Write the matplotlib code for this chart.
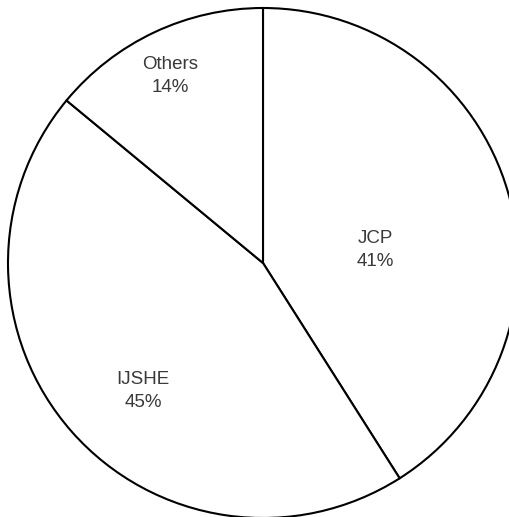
import matplotlib
matplotlib.use('Agg')
import matplotlib.pyplot as plt

# share of papers by journal
journals = ['JCP', 'IJSHE', 'Others']
shares = [41, 45, 14]

# label centres in pixels relative to pie centre (y up)
label_xy = [(112, 13), (-120, -128), (-93, 187)]

plt.rcParams['font.family'] = ['Liberation Sans', 'DejaVu Sans']

fig = plt.figure(figsize=(5.09, 5.17), dpi=100)
ax = fig.add_axes([0, 0, 1, 1])

ax.pie(shares, radius=255, center=(0, 0), startangle=90, counterclock=False,
       colors=['white'] * len(shares),
       wedgeprops={'edgecolor': 'black', 'linewidth': 1.5})

for name, val, (x, y) in zip(journals, shares, label_xy):
    ax.text(x, y, name + '\n' + str(val) + '%', ha='center', va='center',
            fontsize=13.5, color='#3a3a3a', linespacing=1.4)

ax.set_xlim(-263, 246)
ax.set_ylim(-254, 263)
ax.set_aspect('equal')
ax.axis('off')

fig.savefig('out.png', dpi=100, facecolor='white')
